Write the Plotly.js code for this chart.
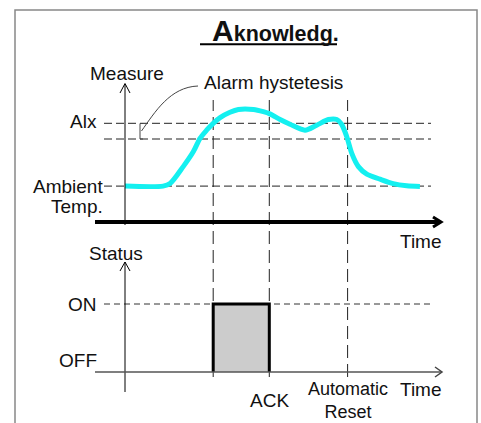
<!DOCTYPE html>
<html>
<head>
<meta charset="utf-8">
<script src="https://cdn.plot.ly/plotly-3.0.1.min.js"></script>
<style>html,body{margin:0;padding:0;background:#fff;}#chart{width:481px;height:423px;}</style>
</head>
<body>
<div id="chart"></div>
<script>
// ---------- data ----------
const curveTime    = [0, 12.7, 15, 19.4, 22.8, 25, 27.2, 29.4, 31.7, 35, 37.8, 42.8, 46.1, 48.3, 51.7, 55, 60, 63.9, 67.8, 70.6, 72.2, 73.9, 75.6, 77.8, 80.6, 85, 89.4, 93.9, 98.3];
const curveMeasure = [20, 20, 20.4, 23.1, 25.5, 27.6, 28.9, 30, 30.9, 31.75, 32.2, 32.2, 31.85, 31.5, 30.6, 29.85, 28.9, 29.7, 30.6, 30.6, 29.85, 27.9, 25.2, 23.1, 21.9, 21.1, 20.4, 20.05, 19.95];
const ambientTemp = 20;
const alarmSetpoint = 30;
const hysteresis = 2.5;
const thresholdSpan = [-7, 102];
const eventNames = ["Alarm", "ACK", "Automatic<br>Reset"];
const eventTimes = [29.4, 48.1, 74.2];
const statusTime  = [29.4, 29.4, 48.1, 48.1];
const statusValue = [0, 1, 1, 0];
const statusLevels = [0, 1];
const statusLabels = ["OFF", "ON"];
const titleText = "<b><span style='font-size:30px'>A</span>knowledg.</b>";

// ---------- helpers (page pixels -> paper) ----------
const W = 481, H = 423;
const px = x => x / W;
const py = y => 1 - y / H;
const FONT = "Liberation Sans, Arial, sans-serif";
function path(pts) {
  return pts.map((p, i) => (i ? "L" : "M") + px(p[0]) + "," + py(p[1])).join(" ");
}
function pline(pts, color, width) {
  return {type: "path", xref: "paper", yref: "paper", path: path(pts), line: {color: color, width: width}};
}
function label(text, x, y, xanchor, size) {
  return {text: text, x: px(x), y: py(y), xref: "paper", yref: "paper", xanchor: xanchor, yanchor: "middle",
          showarrow: false, borderpad: 0, font: {family: FONT, size: size || 19, color: "#111"}};
}

// ---------- traces ----------
const traces = [];
[alarmSetpoint, alarmSetpoint - hysteresis, ambientTemp].forEach(v => {
  traces.push({x: thresholdSpan, y: [v, v], mode: "lines", xaxis: "x", yaxis: "y",
    line: {color: "#222", width: 1, dash: "8px,4px"}, hoverinfo: "skip"});
});
traces.push({x: thresholdSpan, y: [statusLevels[1], statusLevels[1]], mode: "lines", xaxis: "x", yaxis: "y2",
  line: {color: "#333", width: 1, dash: "6px,4px"}, hoverinfo: "skip"});
traces.push({x: curveTime, y: curveMeasure, mode: "lines", xaxis: "x", yaxis: "y",
  line: {color: "#14F0F0", width: 5, shape: "spline", smoothing: 0.8}, hoverinfo: "skip"});
traces.push({x: statusTime, y: statusValue, mode: "lines", xaxis: "x", yaxis: "y2",
  fill: "toself", fillcolor: "#cccccc", line: {color: "#000", width: 3}, hoverinfo: "skip"});

// ---------- shapes ----------
const shapes = [];
// event lines
eventTimes.forEach(t => shapes.push({type: "line", xref: "x", yref: "paper", x0: t, x1: t, y0: py(377), y1: py(100),
  line: {color: "#222", width: 1, dash: "13px,6px"}, layer: "below"}));
// frame
shapes.push({type: "rect", xref: "paper", yref: "paper", x0: px(15), x1: px(477), y0: py(440), y1: py(10),
  line: {color: "#888", width: 1.5}});
// title underline
shapes.push(pline([[200, 44.3], [337, 44.3]], "#000", 2));
// measure axis
shapes.push(pline([[125, 84], [125, 225]], "#000", 1));
shapes.push(pline([[120, 93], [125, 83.5], [130, 93]], "#000", 1));
// top time axis
shapes.push(pline([[95, 222], [440, 222]], "#000", 4));
shapes.push(pline([[433, 217], [441, 222], [433, 227]], "#000", 3));
// status axis
shapes.push(pline([[125, 262], [125, 392]], "#000", 1));
shapes.push(pline([[120, 271], [125, 262], [130, 271]], "#000", 1));
// bottom time axis
shapes.push(pline([[95, 372], [441, 372]], "#555", 1.5));
shapes.push(pline([[435, 367], [442, 372], [435, 377]], "#444", 1.5));
// hysteresis bracket & leader
shapes.push(pline([[143, 123.5], [140, 123.5], [140, 139], [143, 139]], "#444", 1));
shapes.push({type: "path", xref: "paper", yref: "paper",
  path: "M" + px(141.5) + "," + py(131) + " C" + px(155) + "," + py(112) + " " + px(170) + "," + py(87) + " " + px(198) + "," + py(86),
  line: {color: "#444", width: 1}});

// ---------- annotations ----------
const annotations = [
  label(titleText, 275, 31, "center", 21.5),
  label("Measure", 126.5, 73, "center"),
  label("Alarm hystetesis", 203, 83, "left"),
  label("Alx", 98, 122, "right"),
  label("Ambient", 104, 186, "right"),
  label("Temp.", 104, 207, "right"),
  label("Time", 399, 241, "left"),
  label("Status", 88, 253, "left"),
  label(statusLabels[1], 98, 304, "right"),
  label(statusLabels[0], 98, 360, "right"),
  label("Time", 399, 389, "left"),
  label(eventNames[1], 269, 400, "center"),
  label(eventNames[2], 348, 400.5, "center", 18)
];

const layout = {
  width: W, height: H,
  margin: {l: 0, r: 0, t: 0, b: 0},
  paper_bgcolor: "#fff", plot_bgcolor: "rgba(0,0,0,0)",
  showlegend: false,
  xaxis: {range: [-125 / 3, (W - 125) / 3], visible: false, fixedrange: true},
  yaxis: {range: [30 - (H - 123.3) / 6.28, 30 + 123.3 / 6.28], visible: false, fixedrange: true},
  yaxis2: {range: [(372 - H) / 68, 372 / 68], overlaying: "y", visible: false, fixedrange: true},
  shapes: shapes,
  annotations: annotations,
  font: {family: FONT}
};
Plotly.newPlot("chart", traces, layout, {displayModeBar: false, staticPlot: true});
</script>
</body>
</html>
